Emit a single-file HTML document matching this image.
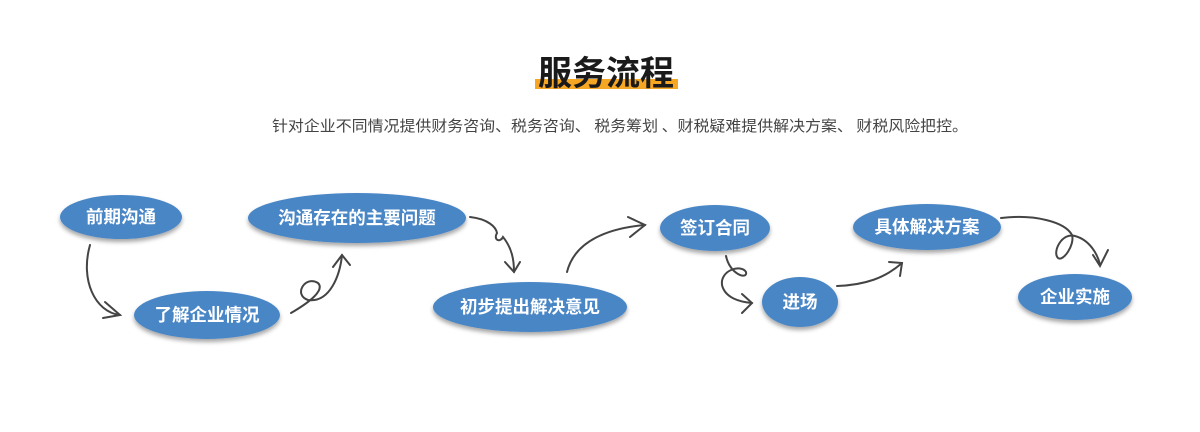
<!DOCTYPE html>
<html><head><meta charset="utf-8"><style>
body{margin:0;width:1200px;height:427px;background:#fff;overflow:hidden;font-family:"Liberation Sans","Noto Sans CJK SC",sans-serif;}
</style></head><body>
<svg width="1200" height="427" viewBox="0 0 1200 427" xmlns="http://www.w3.org/2000/svg">
<defs>
<filter id="sh" x="-20%" y="-30%" width="140%" height="170%"><feDropShadow dx="0" dy="3" stdDeviation="2" flood-color="#000" flood-opacity="0.35"/></filter>
</defs>
<rect x="535" y="79" width="143" height="10" fill="#f5a623"/>
<text x="606" y="85" text-anchor="middle" font-size="34" font-weight="bold" fill="#1a1a1a" font-family="'Noto Sans CJK SC',sans-serif">服务流程</text>
<text x="272" y="131" textLength="696" lengthAdjust="spacingAndGlyphs" font-size="15" fill="#444" font-family="'Noto Sans CJK SC',sans-serif">针对企业不同情况提供财务咨询、税务咨询、 税务筹划 、财税疑难提供解决方案、 财税风险把控。</text>
<g fill="none" stroke="#444" stroke-width="2" stroke-linecap="round">
<path d="M90,245 C80,280 95,312 120,315"/><path d="M105,302 L120,315 L103,318"/>
<path d="M291,313 C310,302 325,290 318,283 C305,275 293,295 308,300 C330,303 340,275 342,255"/><path d="M333,267 L342,255 L350,265"/>
<path d="M470,217 C488,219 496,227 497,233 C493,240 500,243 503,237 C512,248 514,260 514,272"/><path d="M505,262 L514,272 L520,262"/>
<path d="M567,272 C575,240 610,228 645,225"/><path d="M628,217 L645,225 L630,237"/>
<path d="M726,256 C730,275 748,280 746,272 C741,264 720,270 722,285 C725,298 740,302 752,303"/><path d="M742,294 L752,303 L742,313"/>
<path d="M837,286 C865,285 885,278 902,263"/><path d="M889,262 L902,263 L900,276"/>
<path d="M1001,218 C1035,214 1065,222 1072,235 C1075,245 1063,262 1058,258 C1052,252 1062,232 1075,236 C1090,240 1098,255 1100,265"/><path d="M1093,255 L1100,266 L1108,250"/>
</g>
<g filter="url(#sh)" fill="#4a86c6">
<ellipse cx="121" cy="217" rx="61" ry="22"/>
<ellipse cx="207" cy="315" rx="73" ry="24"/>
<ellipse cx="357" cy="218" rx="109" ry="25"/>
<ellipse cx="530" cy="307" rx="97" ry="25"/>
<ellipse cx="715" cy="228" rx="55" ry="23"/>
<ellipse cx="800" cy="302" rx="38" ry="25"/>
<ellipse cx="927" cy="227" rx="74" ry="23"/>
<ellipse cx="1075" cy="297" rx="57" ry="23"/>
</g>
<g fill="#fff" font-size="17.5" font-weight="bold" text-anchor="middle" font-family="'Noto Sans CJK SC',sans-serif">
<text x="121" y="223">前期沟通</text>
<text x="207" y="321">了解企业情况</text>
<text x="357" y="224">沟通存在的主要问题</text>
<text x="530" y="313">初步提出解决意见</text>
<text x="715" y="234">签订合同</text>
<text x="800" y="308">进场</text>
<text x="927" y="233">具体解决方案</text>
<text x="1075" y="303">企业实施</text>
</g>
</svg>
</body></html>
